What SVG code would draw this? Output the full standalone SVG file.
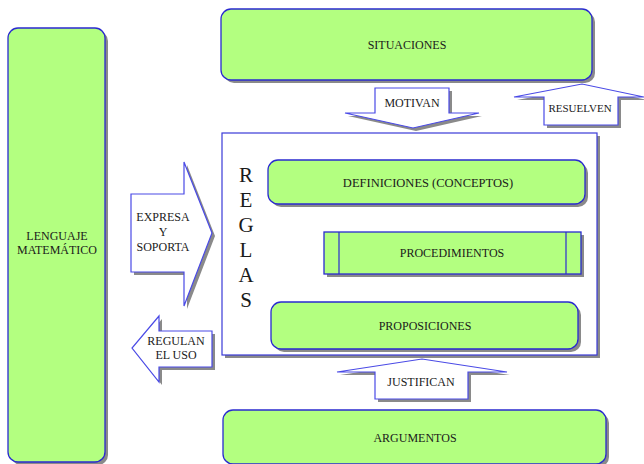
<svg xmlns="http://www.w3.org/2000/svg" width="644" height="464" viewBox="0 0 644 464">
<style>
.box{fill:#b3ff80;stroke:#2a2ad0;stroke-width:1.3}
.sh{fill:#8a8a8a;stroke:none}
.arr{fill:#ffffff;stroke:#4a4ae6;stroke-width:1.2}
.cont{fill:#ffffff;stroke:#3a3ad8;stroke-width:1.2}
.t{font-family:'Liberation Serif','Times New Roman',serif;font-size:12px;fill:#1a1a1a;text-anchor:middle}
.big{font-family:'Liberation Serif','Times New Roman',serif;font-size:21px;fill:#1a1a1a;text-anchor:middle}
</style>
<rect width="644" height="464" fill="#ffffff"/>
<g id="lenguaje">
<rect class="sh" x="11" y="31" width="97" height="434" rx="10"/>
<rect class="box" x="8" y="28" width="97" height="434" rx="10"/>
<text class="t" x="57" y="240">LENGUAJE</text>
<text class="t" x="57" y="254">MATEMÁTICO</text>
</g>
<g id="situaciones">
<rect class="sh" x="224" y="12" width="371" height="71" rx="10"/>
<rect class="box" x="221" y="9" width="371" height="71" rx="10"/>
<text class="t" x="407" y="49">SITUACIONES</text>
</g>
<g id="reglas">
<rect class="sh" x="225" y="136" width="375" height="222"/>
<rect class="cont" x="222" y="133" width="375" height="222"/>
<text class="big" x="246" y="182">R</text>
<text class="big" x="246" y="207">E</text>
<text class="big" x="246" y="232">G</text>
<text class="big" x="246" y="257">L</text>
<text class="big" x="246" y="282">A</text>
<text class="big" x="246" y="307">S</text>
</g>
<g id="definiciones">
<rect class="sh" x="271" y="163" width="317" height="44" rx="10"/>
<rect class="box" x="268" y="160" width="317" height="44" rx="10"/>
<text class="t" x="428" y="187" style="font-size:12.5px">DEFINICIONES (CONCEPTOS)</text>
</g>
<g id="procedimientos">
<rect class="sh" x="327" y="235" width="257" height="42"/>
<rect class="box" x="324" y="232" width="257" height="42"/>
<line x1="339" y1="232" x2="339" y2="274" stroke="#2a2ad0" stroke-width="1.2"/>
<line x1="566" y1="232" x2="566" y2="274" stroke="#2a2ad0" stroke-width="1.2"/>
<text class="t" x="452" y="257">PROCEDIMIENTOS</text>
</g>
<g id="proposiciones">
<rect class="sh" x="274" y="305" width="307" height="47" rx="10"/>
<rect class="box" x="271" y="302" width="307" height="47" rx="10"/>
<text class="t" x="425" y="330">PROPOSICIONES</text>
</g>
<g id="argumentos">
<rect class="sh" x="226" y="413" width="383" height="54" rx="10"/>
<rect class="box" x="223" y="410" width="383" height="54" rx="10"/>
<text class="t" x="415" y="442">ARGUMENTOS</text>
</g>
<g id="connectors">
<g id="motivan">
<polygon class="sh" points="378,91 452,91 452,116 482,116 416,131 348,116 378,116"/>
<polygon class="arr" points="375,88 449,88 449,113 479,113 413,128 345,113 375,113"/>
<text class="t" x="412" y="107">MOTIVAN</text>
</g>
<g id="resuelven">
<polygon class="sh" points="547,128 621,128 621,100 647,100 585,87 517,100 547,100"/>
<polygon class="arr" points="544,125 618,125 618,97 644,97 582,84 514,97 544,97"/>
<text class="t" x="580" y="112" style="font-size:11px">RESUELVEN</text>
</g>
<g id="expresa">
<polygon class="sh" points="134,197 187,197 187,165 215,236 187,309 187,275 134,275"/>
<polygon class="arr" points="131,194 184,194 184,162 212,233 184,306 184,272 131,272"/>
<text class="t" x="163" y="221">EXPRESA</text>
<text class="t" x="163" y="236">Y</text>
<text class="t" x="163" y="251">SOPORTA</text>
</g>
<g id="regulan">
<polygon class="sh" points="215,334 215,370 162,370 162,385 135,351 162,319 162,334"/>
<polygon class="arr" points="212,331 212,367 159,367 159,382 132,348 159,316 159,331"/>
<text class="t" x="176" y="345">REGULAN</text>
<text class="t" x="176" y="359">EL USO</text>
</g>
<g id="justifican">
<polygon class="sh" points="378,402 471,402 471,375 510,375 425,362 340,375 378,375"/>
<polygon class="arr" points="375,399 468,399 468,372 507,372 422,359 337,372 375,372"/>
<text class="t" x="421" y="386">JUSTIFICAN</text>
</g>
</g>
</svg>
